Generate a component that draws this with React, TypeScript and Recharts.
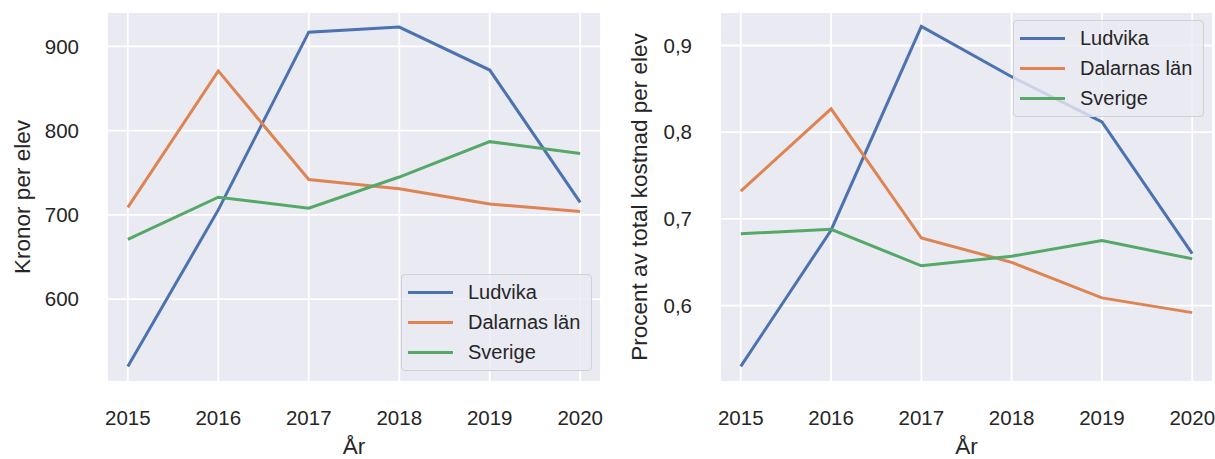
import React from 'react';
import { LineChart, Line, XAxis, YAxis, CartesianGrid } from 'recharts';

const years = [2015, 2016, 2017, 2018, 2019, 2020];

// Kronor per elev
const kronorLudvika = [520, 706, 917, 923, 872, 715];
const kronorDalarna = [709, 871, 742, 731, 713, 704];
const kronorSverige = [671, 721, 708, 745, 787, 773];

// Procent av total kostnad per elev
const procentLudvika = [0.53, 0.687, 0.922, 0.864, 0.812, 0.66];
const procentDalarna = [0.732, 0.827, 0.678, 0.65, 0.609, 0.592];
const procentSverige = [0.683, 0.688, 0.646, 0.657, 0.675, 0.654];

const kronorTicks = [600, 700, 800, 900];
const procentTicks = [0.6, 0.7, 0.8, 0.9];

const seriesNames = ['Ludvika', 'Dalarnas län', 'Sverige'];
const seriesColors = ['#4c72b0', '#dd8452', '#55a868'];

const FONT = '"Liberation Sans", Arial, sans-serif';
const TEXT = '#262626';

const kronorData = years.map((year, i) => ({
  year,
  Ludvika: kronorLudvika[i],
  'Dalarnas län': kronorDalarna[i],
  Sverige: kronorSverige[i],
}));

const procentData = years.map((year, i) => ({
  year,
  Ludvika: procentLudvika[i],
  'Dalarnas län': procentDalarna[i],
  Sverige: procentSverige[i],
}));

function LegendBox({ left, top }: { left: number; top: number }) {
  return (
    <div
      style={{
        position: 'absolute',
        left,
        top,
        width: 191,
        height: 97,
        boxSizing: 'border-box',
        border: '1px solid #d0d0d8',
        borderRadius: 4,
        background: 'rgba(234,234,242,0.8)',
        paddingTop: 3,
        fontFamily: FONT,
        fontSize: 20,
        color: TEXT,
      }}
    >
      {seriesNames.map((name, i) => (
        <div key={name} style={{ height: 29.7, display: 'flex', alignItems: 'center' }}>
          <div style={{ marginLeft: 6, width: 45, height: 3, background: seriesColors[i] }} />
          <span style={{ marginLeft: 15 }}>{name}</span>
        </div>
      ))}
    </div>
  );
}

interface PanelProps {
  data: any[];
  domain: [number, number];
  ticks: number[];
  yLabel: string;
  yWidth: number;
  labelOffset: number;
  width: number;
  marginRight: number;
  formatter?: (v: number) => string;
}

function Panel({ data, domain, ticks, yLabel, yWidth, labelOffset, width, marginRight, formatter }: PanelProps) {
  return (
    <LineChart
      width={width}
      height={459}
      data={data}
      margin={{ top: 12, right: marginRight, bottom: 0, left: 0 }}
      style={{ fontFamily: FONT }}
    >
      <CartesianGrid fill="#eaeaf2" fillOpacity={1} stroke="#ffffff" strokeWidth={1.8} />
      <XAxis
        dataKey="year"
        type="number"
        domain={[2014.77, 2020.23]}
        ticks={years}
        allowDataOverflow
        tickLine={false}
        axisLine={false}
        tickSize={0}
        tickMargin={28}
        height={77}
        tick={{ fontSize: 20.5, fill: TEXT }}
        label={{ value: 'År', position: 'insideBottom', offset: 5, style: { fontSize: 22.5, fill: TEXT } }}
      />
      <YAxis
        type="number"
        domain={domain}
        ticks={ticks}
        allowDataOverflow
        tickLine={false}
        axisLine={false}
        tickSize={0}
        tickMargin={28}
        width={yWidth}
        tick={{ fontSize: 20.5, fill: TEXT }}
        tickFormatter={formatter}
        label={{
          value: yLabel,
          angle: -90,
          position: 'insideLeft',
          offset: labelOffset,
          style: { textAnchor: 'middle', fontSize: 22.5, fill: TEXT },
        }}
      />
      {seriesNames.map((name, i) => (
        <Line
          key={name}
          type="linear"
          dataKey={name}
          stroke={seriesColors[i]}
          strokeWidth={3}
          dot={false}
          isAnimationActive={false}
        />
      ))}
    </LineChart>
  );
}

export default function App() {
  return (
    <div style={{ position: 'absolute', left: 0, top: 0, width: 1215, height: 459, background: '#fff' }}>
      <div style={{ position: 'absolute', left: 0, top: 0 }}>
        <Panel
          data={kronorData}
          domain={[501.7, 940.9]}
          ticks={kronorTicks}
          yLabel="Kronor per elev"
          yWidth={107}
          labelOffset={22}
          width={607}
          marginRight={6}
        />
        <LegendBox left={401} top={274} />
      </div>
      <div style={{ position: 'absolute', left: 607, top: 0 }}>
        <Panel
          data={procentData}
          domain={[0.512, 0.9386]}
          ticks={procentTicks}
          yLabel="Procent av total kostnad per elev"
          yWidth={113}
          labelOffset={32}
          width={608}
          marginRight={2}
          formatter={(v: number) => v.toFixed(1).replace('.', ',')}
        />
        <LegendBox left={406} top={20} />
      </div>
    </div>
  );
}
